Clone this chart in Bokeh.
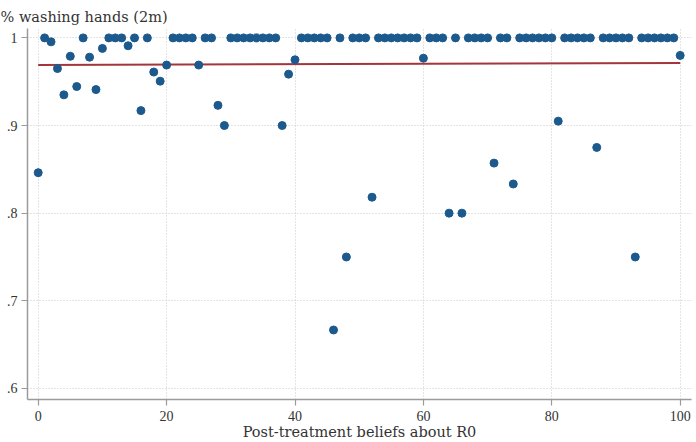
import numpy as np
from bokeh.plotting import figure
from bokeh.models import Range1d, FixedTicker
from bokeh.embed import file_html
from bokeh.resources import INLINE

# ---- data ----
beliefs = list(range(0, 101))
washing = [0.8462, 1, 0.9955, 0.965, 0.935, 0.979, 0.9445, 1, 0.978, 0.941,
           0.988, 1, 1, 1, 0.991, 1, 0.917, 1, 0.961, 0.9506,
           0.969, 1, 1, 1, 1, 0.969, 1, 1, 0.923, 0.9,
           1, 1, 1, 1, 1, 1, 1, 1, 0.9, 0.9586,
           0.975, 1, 1, 1, 1, 1, 0.6667, 1, 0.75, 1,
           1, 1, 0.8182, 1, 1, 1, 1, 1, 1, 1,
           0.9768, 1, 1, 1, 0.8, 1, 0.8, 1, 1, 1,
           1, 0.8571, 1, 1, 0.8333, 1, 1, 1, 1, 1,
           1, 0.905, 1, 1, 1, 1, 1, 0.875, 1, 1,
           1, 1, 1, 0.75, 1, 1, 1, 1, 1, 1,
           0.98]
x_ticks = [0, 20, 40, 60, 80, 100]
y_ticks = [0.6, 0.7, 0.8, 0.9, 1.0]
y_tick_labels = [".6", ".7", ".8", ".9", "1"]
title_text = "% washing hands (2m)"
x_label = "Post-treatment beliefs about R0"

# linear fit (lfit)
slope, intercept = np.polyfit(beliefs, washing, 1)
fit_x = [min(beliefs), max(beliefs)]
fit_y = [intercept + slope * v for v in fit_x]

FONT = "DejaVu Serif"
TICKFONT = "Liberation Serif"
TXT = "#333333"
AX = "#9a9a9a"

p = figure(width=696, height=442, output_backend="svg", toolbar_location=None,
           x_range=Range1d(-1.667, 101.76), y_range=Range1d(0.5874, 1.0107))
p.min_border_left = 27
p.min_border_right = 5
p.min_border_top = 28
p.min_border_bottom = 43
p.outline_line_color = None
p.background_fill_color = "white"
p.border_fill_color = "white"

p.title.text = title_text
p.title.text_font = FONT
p.title.text_font_size = "14.5px"
p.title.text_font_style = "normal"
p.title.text_color = TXT
p.title.align = "left"
p.title.offset = -27
p.title.standoff = 7

for ax in (p.xaxis[0], p.yaxis[0]):
    ax.axis_line_color = AX
    ax.axis_line_width = 1.5
    ax.major_tick_line_color = AX
    ax.major_tick_line_width = 1.2
    ax.major_tick_out = 6
    ax.major_tick_in = 0
    ax.minor_tick_line_color = None
    ax.major_label_text_font = TICKFONT
    ax.major_label_text_font_size = "14px"
    ax.major_label_text_color = TXT

p.xaxis.ticker = FixedTicker(ticks=x_ticks)
p.yaxis.ticker = FixedTicker(ticks=y_ticks)
p.yaxis.major_label_overrides = {t: l for t, l in zip(y_ticks, y_tick_labels)}
p.xaxis.major_label_standoff = 5
p.yaxis.major_label_standoff = 4
p.xaxis.axis_label = x_label
p.xaxis.axis_label_text_font = FONT
p.xaxis.axis_label_text_font_size = "14.5px"
p.xaxis.axis_label_text_font_style = "normal"
p.xaxis.axis_label_text_color = TXT
p.xaxis.axis_label_standoff = 0

for g, t in ((p.xgrid[0], x_ticks), (p.ygrid[0], y_ticks)):
    g.ticker = FixedTicker(ticks=t)
    g.grid_line_color = "#c8c8c8"
    g.grid_line_width = 1
    g.grid_line_dash = "1 2"

p.line(fit_x, fit_y, line_color="#a3363c", line_width=2)
p.scatter(beliefs, washing, size=8, fill_color="#1c5a8e", line_color="#1c5a8e")

open("out.html", "w").write(file_html(p, INLINE))
